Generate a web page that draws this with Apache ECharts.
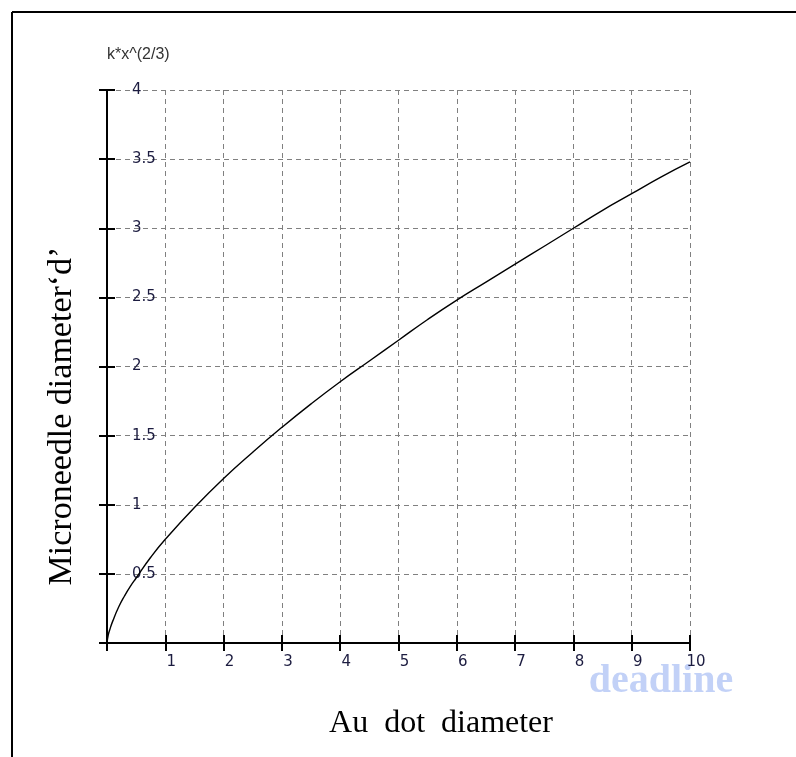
<!DOCTYPE html>
<html>
<head>
<meta charset="utf-8">
<script src="https://cdn.jsdelivr.net/npm/echarts@6/dist/echarts.min.js"></script>
<style>
  html, body { margin: 0; padding: 0; background: #ffffff; }
  #chart { width: 796px; height: 757px; }
</style>
</head>
<body>
<div id="chart"></div>
<script>
// Au dot diameter (x) and microneedle diameter (y) along the k*x^(2/3) curve
const xValues = [0, 0.02, 0.05, 0.1, 0.2, 0.3, 0.4, 0.5, 0.75, 1, 1.5, 2, 2.5, 3, 3.5, 4, 4.5, 5, 5.5, 6, 6.5, 7, 7.5, 8, 8.5, 9, 9.5, 10];
const yValues = [0, 0.055, 0.10, 0.16, 0.26, 0.34, 0.41, 0.47, 0.62, 0.75, 0.98, 1.19, 1.38, 1.56, 1.73, 1.89, 2.04, 2.19, 2.34, 2.48, 2.61, 2.74, 2.87, 3.00, 3.13, 3.25, 3.37, 3.48];

const xTicks = [1, 2, 3, 4, 5, 6, 7, 8, 9, 10];
const yTicks = [0.5, 1, 1.5, 2, 2.5, 3, 3.5, 4];

const curveName = 'k*x^(2/3)';
const xTitle = 'Au  dot  diameter';
const yTitle = 'Microneedle diameter‘d’';
const watermark = 'deadline';

const points = xValues.map((x, i) => [x, yValues[i]]);

const grid = { left: 107, top: 90, right: 106, bottom: 114 };
const tickFont = { fontFamily: 'DejaVu Sans', fontSize: 15, color: '#1c1c40' };
const gridLine = { show: true, lineStyle: { color: '#808080', width: 1, type: [5, 4] } };
const axisLine = { show: true, lineStyle: { color: '#000', width: 2 } };

const chart = echarts.init(document.getElementById('chart'), null, { renderer: 'canvas' });

chart.setOption({
  backgroundColor: '#ffffff',
  animation: false,
  grid: grid,
  xAxis: [
    {
      type: 'value', min: 0, max: 10, interval: 1,
      axisLine: axisLine,
      axisTick: { show: true, length: 8, lineStyle: { color: '#000', width: 2 } },
      splitLine: gridLine,
      axisLabel: {
        ...tickFont, margin: 12, padding: [0, 0, 0, 12],
        formatter: v => (xTicks.includes(v) ? String(v) : '')
      }
    },
    {
      // inner half of the crossing tick marks
      type: 'value', min: 0, max: 10, interval: 1, position: 'bottom',
      axisLine: { show: false },
      axisTick: { show: true, inside: true, length: 8, lineStyle: { color: '#000', width: 2 } },
      splitLine: { show: false },
      axisLabel: { show: false }
    }
  ],
  yAxis: [
    {
      type: 'value', min: 0, max: 4, interval: 0.5,
      name: curveName,
      nameLocation: 'end',
      nameGap: 35,
      nameTextStyle: { fontFamily: 'Liberation Sans', fontSize: 16, color: '#333', align: 'left', verticalAlign: 'middle' },
      axisLine: axisLine,
      axisTick: { show: true, length: 8, lineStyle: { color: '#000', width: 2 } },
      splitLine: gridLine,
      axisLabel: {
        ...tickFont, inside: true, margin: 25,
        formatter: v => (yTicks.includes(v) ? String(v) : '')
      }
    },
    {
      type: 'value', min: 0, max: 4, interval: 0.5, position: 'left',
      axisLine: { show: false },
      axisTick: { show: true, inside: true, length: 8, lineStyle: { color: '#000', width: 2 } },
      splitLine: { show: false },
      axisLabel: { show: false }
    }
  ],
  series: [
    {
      type: 'line',
      data: points,
      smooth: true,
      showSymbol: false,
      lineStyle: { color: '#000', width: 1.4 },
      z: 5
    }
  ],
  graphic: [
    // frame lines on the left and top
    { type: 'line', shape: { x1: 12, y1: 12, x2: 12, y2: 757 }, style: { stroke: '#000', lineWidth: 2 } },
    { type: 'line', shape: { x1: 12, y1: 12, x2: 796, y2: 12 }, style: { stroke: '#000', lineWidth: 2 } },
    {
      type: 'text', x: 62, y: 416, rotation: Math.PI / 2,
      style: { text: yTitle, font: '34px "Liberation Serif"', fill: '#000', align: 'center', verticalAlign: 'middle' }
    },
    {
      type: 'text', x: 441, y: 724,
      style: { text: xTitle, font: '32px "Liberation Serif"', fill: '#000', align: 'center', verticalAlign: 'middle' }
    },
    {
      type: 'text', x: 661, y: 682,
      style: { text: watermark, font: 'bold 40px "Liberation Serif"', fill: 'rgba(110,145,235,0.42)', align: 'center', verticalAlign: 'middle' }
    }
  ]
});
</script>
</body>
</html>
